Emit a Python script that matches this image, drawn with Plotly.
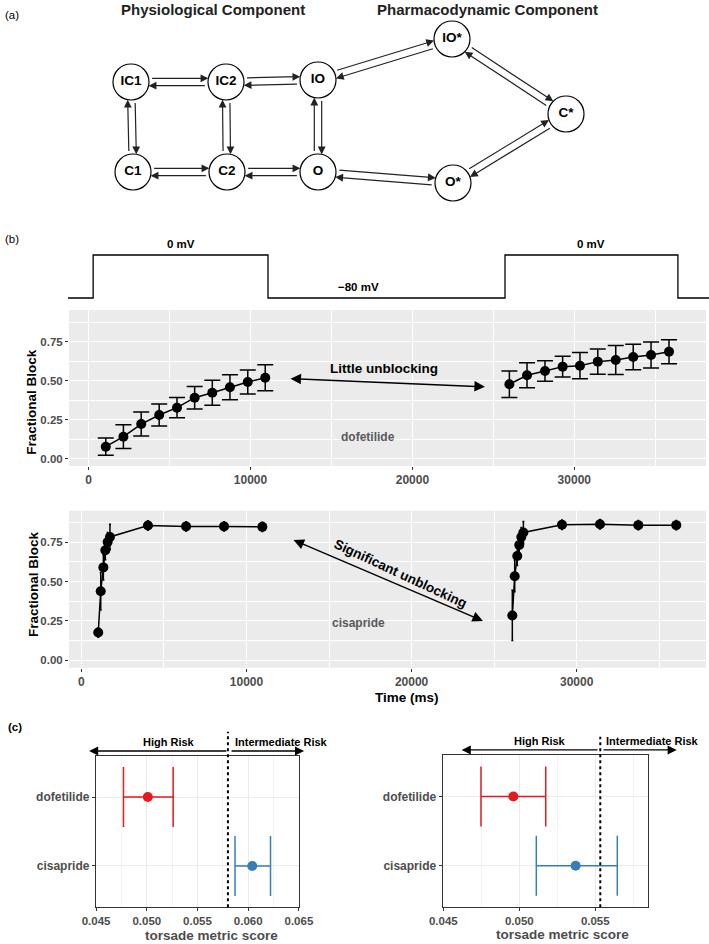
import plotly.graph_objects as go

W, H = 709, 944
FONT = "Liberation Sans, Arial, Helvetica, sans-serif"
GRAYTXT = "#4d4d4d"
TICKC = "#333333"

# ---------------- (a) kinetic scheme ----------------
node_names = ["IC1", "IC2", "IO", "C1", "C2", "O", "IO*", "C*", "O*"]
node_x = [131, 226, 318, 133, 227, 318, 452, 566, 453]
node_y = [82, 82, 80, 172, 172, 172, 39, 114, 183]
edge_from = ["IC1", "IC2", "C1", "C2", "IC1", "IC2", "IO", "IO", "IO*", "C*", "O*"]
edge_to = ["IC2", "IO", "C2", "O", "C1", "C2", "O", "IO*", "C*", "O*", "O"]
component_titles = ["Physiological Component", "Pharmacodynamic Component"]
component_title_x = [213, 487]

# ---------------- (b) voltage protocol ----------------
volt_t = [-1270, 280, 280, 11080, 11080, 25720, 25720, 36400, 36400, 38320]
volt_mv = [-80, -80, 0, 0, -80, -80, 0, 0, -80, -80]
volt_labels = ["0 mV", "\u221280 mV", "0 mV"]
volt_label_t = [5700, 16700, 31050]
volt_label_mv = [0, -80, 0]

# ---------------- (b) fractional block ----------------
dof_t1 = [1060, 2150, 3250, 4360, 5460, 6550, 7640, 8730, 9830, 10910]
dof_y1 = [0.079, 0.143, 0.224, 0.282, 0.329, 0.393, 0.425, 0.460, 0.494, 0.521]
dof_e1 = [0.055, 0.076, 0.077, 0.070, 0.065, 0.072, 0.080, 0.080, 0.077, 0.083]
dof_t2 = [25990, 27080, 28190, 29280, 30350, 31450, 32560, 33640, 34740, 35850]
dof_y2 = [0.479, 0.537, 0.564, 0.592, 0.598, 0.624, 0.635, 0.654, 0.667, 0.688]
dof_e2 = [0.085, 0.080, 0.066, 0.066, 0.084, 0.081, 0.093, 0.082, 0.083, 0.077]

cis_t1 = [1020, 1170, 1330, 1450, 1590, 1730, 4030, 6340, 8640, 10960]
cis_y1 = [0.175, 0.438, 0.590, 0.699, 0.752, 0.784, 0.857, 0.851, 0.851, 0.848]
cis_e1 = [0.03, 0.12, 0.08, 0.06, 0.06, 0.08, 0.03, 0.03, 0.03, 0.03]
cis_t2 = [26100, 26245, 26400, 26520, 26645, 26770, 29110, 31410, 33730, 36030]
cis_y2 = [0.284, 0.534, 0.662, 0.733, 0.784, 0.812, 0.861, 0.865, 0.859, 0.859]
cis_e2 = [0.16, 0.10, 0.06, 0.06, 0.06, 0.07, 0.03, 0.03, 0.03, 0.03]

time_ticks = [0, 10000, 20000, 30000]
time_minor = [5000, 15000, 25000, 35000]
block_ticks = [0, 0.25, 0.5, 0.75]
block_minor = [0.125, 0.375, 0.625, 0.875]

# ---------------- (c) torsade metric score ----------------
drugs = ["dofetilide", "cisapride"]
drug_colors = ["#E41A1C", "#377EB8"]
tms_left_mean = [0.0501, 0.0604]
tms_left_lo = [0.0477, 0.0587]
tms_left_hi = [0.0526, 0.0622]
tms_right_mean = [0.04961, 0.05371]
tms_right_lo = [0.04748, 0.05112]
tms_right_hi = [0.05174, 0.05645]
thr_left = 0.0580
thr_right = 0.05533
tms_ticks_left = [0.045, 0.050, 0.055, 0.060, 0.065]
tms_minor_left = [0.0475, 0.0525, 0.0575, 0.0625]
tms_ticks_right = [0.045, 0.050, 0.055]
tms_minor_right = [0.0475, 0.0525, 0.0575]
risk_labels = ["High Risk", "Intermediate Risk"]


def pxx(x):
    return x / W


def pxy(y):
    return 1 - y / H


fig = go.Figure()

# ---- panel (b) traces ----
for t, y, e in ((dof_t1, dof_y1, dof_e1), (dof_t2, dof_y2, dof_e2)):
    fig.add_trace(go.Scatter(
        x=t, y=y, mode="lines+markers", xaxis="x", yaxis="y",
        line=dict(color="black", width=1.5), marker=dict(color="black", size=10),
        error_y=dict(type="data", array=e, color="black", thickness=1.5, width=8),
        showlegend=False, hoverinfo="skip"))
for t, y, e in ((cis_t1, cis_y1, cis_e1), (cis_t2, cis_y2, cis_e2)):
    fig.add_trace(go.Scatter(
        x=t, y=y, mode="lines+markers", xaxis="x2", yaxis="y2",
        line=dict(color="black", width=1.5), marker=dict(color="black", size=10),
        error_y=dict(type="data", array=e, color="black", thickness=1.5, width=1),
        showlegend=False, hoverinfo="skip"))

fig.add_trace(go.Scatter(
    x=volt_t, y=volt_mv, mode="lines", xaxis="x3", yaxis="y3",
    line=dict(color="black", width=1.3), showlegend=False, hoverinfo="skip"))

# ---- panel (a) node labels ----
fig.add_trace(go.Scatter(
    x=node_x, y=node_y, mode="text", text=node_names, xaxis="x6", yaxis="y6",
    textfont=dict(family=FONT, size=13.5, color="black", weight="bold"),
    textposition="middle center", showlegend=False, hoverinfo="skip"))

# ---- panel (c) traces ----
for ax_x, ax_y, mean, lo, hi in (("x4", "y4", tms_left_mean, tms_left_lo, tms_left_hi),
                                 ("x5", "y5", tms_right_mean, tms_right_lo, tms_right_hi)):
    for i, d in enumerate(drugs):
        fig.add_trace(go.Scatter(
            x=[mean[i]], y=[d], mode="markers", xaxis=ax_x, yaxis=ax_y,
            marker=dict(color=drug_colors[i], size=10),
            error_x=dict(type="data", symmetric=False, array=[hi[i] - mean[i]],
                         arrayminus=[mean[i] - lo[i]], color=drug_colors[i],
                         thickness=1.5, width=30),
            showlegend=False, hoverinfo="skip"))

# ---------------- axes ----------------
tickfont_b = dict(family=FONT, size=12, color=GRAYTXT, weight="bold")


def time_axis(dom, rng, anchor):
    return dict(domain=dom, range=rng, anchor=anchor, tickvals=time_ticks, tickformat="d",
                showgrid=True, gridcolor="white", gridwidth=1.2, zeroline=False,
                ticks="outside", ticklen=3, tickwidth=1, tickcolor=TICKC,
                tickfont=tickfont_b, showline=False, fixedrange=True,
                minor=dict(tickvals=time_minor, showgrid=True, gridcolor="white",
                           gridwidth=0.5, ticks=""))


def block_axis(dom, rng, anchor):
    return dict(domain=dom, range=rng, anchor=anchor, tickvals=block_ticks, tickformat=".2f",
                showgrid=True, gridcolor="white", gridwidth=1.2, zeroline=False,
                ticks="outside", ticklen=3, tickwidth=1, tickcolor=TICKC,
                tickfont=dict(family=FONT, size=11.5, color=GRAYTXT, weight="bold"),
                showline=False, fixedrange=True,
                minor=dict(tickvals=block_minor, showgrid=True, gridcolor="white",
                           gridwidth=0.5, ticks=""))


def tms_axis(dom, rng, anchor, ticks, minor):
    return dict(domain=dom, range=rng, anchor=anchor, tickvals=ticks, tickformat=".3f",
                showgrid=True, gridcolor="#EBEBEB", gridwidth=1, zeroline=False,
                ticks="outside", ticklen=3, tickwidth=1, tickcolor=TICKC,
                tickfont=dict(family=FONT, size=11.5, color=GRAYTXT, weight="bold"),
                showline=True, mirror=True, linecolor="#333333", linewidth=1.3,
                fixedrange=True,
                minor=dict(tickvals=minor, showgrid=True, gridcolor="#F2F2F2",
                           gridwidth=0.6, ticks=""))


def cat_axis(dom, anchor):
    return dict(domain=dom, anchor=anchor, type="category", categoryorder="array",
                categoryarray=drugs[::-1], range=[-0.6, 1.6],
                showgrid=True, gridcolor="#EBEBEB", gridwidth=1, zeroline=False,
                ticks="outside", ticklen=3, tickwidth=1, tickcolor=TICKC,
                tickfont=dict(family=FONT, size=12, color=GRAYTXT, weight="bold"),
                showline=True, mirror=True, linecolor="#333333", linewidth=1.3,
                fixedrange=True)


bx = [pxx(69), pxx(706)]
layout_axes = dict(
    xaxis=time_axis(bx, [-1211, 38135], "y"),
    yaxis=block_axis([pxy(466), pxy(310)], [-0.0449, 0.955], "x"),
    xaxis2=time_axis(bx, [-751, 37831], "y2"),
    yaxis2=block_axis([pxy(667.7), pxy(510.7)], [-0.049, 0.951], "x2"),
    xaxis3=dict(domain=[0, 1], range=[-5473, 38320], anchor="y3", visible=False, fixedrange=True),
    yaxis3=dict(domain=[pxy(308), pxy(232)], range=[-98.6, 42.8], anchor="x3", visible=False, fixedrange=True),
    xaxis4=tms_axis([pxx(96), pxx(299)], [0.04499, 0.06501], "y4", tms_ticks_left, tms_minor_left),
    yaxis4=cat_axis([pxy(907.3), pxy(755.7)], "x4"),
    xaxis5=tms_axis([pxx(442.7), pxx(648.3)], [0.04496, 0.05849], "y5", tms_ticks_right, tms_minor_right),
    yaxis5=cat_axis([pxy(907.3), pxy(755)], "x5"),
    xaxis6=dict(domain=[0, 1], range=[0, W], anchor="y6", visible=False, fixedrange=True),
    yaxis6=dict(domain=[pxy(205), 1], range=[205, 0], anchor="x6", visible=False, fixedrange=True),
)


def x_to_paper(axname, v):
    ax = layout_axes[axname]
    d0, d1 = ax["domain"]
    r0, r1 = ax["range"]
    return d0 + (v - r0) / (r1 - r0) * (d1 - d0)


def ydom_to_paper(axname, f):
    d0, d1 = layout_axes[axname]["domain"]
    return d0 + f * (d1 - d0)


shapes = []
annotations = []

# gray panel backgrounds
for xr, yr in (("x", "y"), ("x2", "y2")):
    shapes.append(dict(type="rect", xref=xr + " domain", yref=yr + " domain", x0=0, x1=1, y0=0, y1=1,
                       fillcolor="#EBEBEB", line=dict(width=0), layer="below"))

# ---- (a) circles and arrows ----
R = 18.0
OFF = 3.7
pos = {n: (x, y) for n, x, y in zip(node_names, node_x, node_y)}
for n in node_names:
    cx, cy = pos[n]
    shapes.append(dict(type="circle", xref="x6", yref="y6", x0=cx - R, x1=cx + R, y0=cy - R, y1=cy + R,
                       fillcolor="white", line=dict(color="black", width=1.2), layer="below"))
inner = (R * R - OFF * OFF) ** 0.5
for a, b in zip(edge_from, edge_to):
    for s, t in ((a, b), (b, a)):
        sx, sy = pos[s]
        tx, ty = pos[t]
        dx, dy = tx - sx, ty - sy
        L = (dx * dx + dy * dy) ** 0.5
        ux, uy = dx / L, dy / L
        nx, ny = uy, -ux
        hx, hy = tx - ux * inner + nx * OFF, ty - uy * inner + ny * OFF
        tx0, ty0 = sx + ux * (inner + 3) + nx * OFF, sy + uy * (inner + 3) + ny * OFF
        annotations.append(dict(x=hx, y=hy, ax=tx0, ay=ty0, xref="x6", yref="y6", axref="x6", ayref="y6",
                                text="", showarrow=True, arrowhead=2, arrowsize=1.3, arrowwidth=1.2,
                                arrowcolor="#222222", standoff=0, startstandoff=0,
                                font=dict(size=1), borderpad=0))
for ttl, tx in zip(component_titles, component_title_x):
    annotations.append(dict(x=tx, y=9, xref="x6", yref="y6", text=ttl, showarrow=False,
                            xanchor="center", yanchor="middle",
                            font=dict(family=FONT, size=15, color="#222222", weight="bold")))

# panel letters
for lbl, x, y, wt in (("(a)", 12, 15, "normal"), ("(b)", 12, 239, "normal"), ("(c)", 15, 727, "bold")):
    annotations.append(dict(x=pxx(x), y=pxy(y), xref="paper", yref="paper", text=lbl, showarrow=False,
                            xanchor="center", yanchor="middle",
                            font=dict(family=FONT, size=11.5, color="black", weight=wt)))

# voltage labels
for lbl, t, v in zip(volt_labels, volt_label_t, volt_label_mv):
    annotations.append(dict(x=t, y=v, xref="x3", yref="y3", text=lbl, showarrow=False, yshift=11,
                            xanchor="center", yanchor="middle",
                            font=dict(family=FONT, size=11.5, color="black", weight="bold")))

# panel (b) titles
for x, y, txt, ang in ((30.7, 402, "Fractional Block", -90), (33, 584, "Fractional Block", -90),
                       (407, 697.5, "Time (ms)", 0)):
    annotations.append(dict(x=pxx(x), y=pxy(y), xref="paper", yref="paper", text=txt, textangle=ang,
                            xanchor="center", yanchor="middle",
                            showarrow=False, font=dict(family=FONT, size=13.5, color="black", weight="bold")))

# dofetilide annotations
annotations.append(dict(x=24480, y=0.463, ax=12440, ay=0.515, xref="x", yref="y", axref="x", ayref="y",
                        text="", showarrow=True, arrowhead=2, arrowside="end+start", arrowsize=1.4,
                        arrowwidth=1.5, arrowcolor="black", font=dict(size=1), borderpad=0))
annotations.append(dict(x=18250, y=0.577, xref="x", yref="y", text="Little unblocking", showarrow=False,
                        font=dict(family=FONT, size=13.5, color="black", weight="bold")))
annotations.append(dict(x=17260, y=0.141, xref="x", yref="y", text="dofetilide", showarrow=False,
                        font=dict(family=FONT, size=12, color="#595959", weight="bold")))
# cisapride annotations
annotations.append(dict(x=24320, y=0.249, ax=12820, ay=0.765, xref="x2", yref="y2", axref="x2", ayref="y2",
                        text="", showarrow=True, arrowhead=2, arrowside="end+start", arrowsize=1.4,
                        arrowwidth=1.5, arrowcolor="black", font=dict(size=1), borderpad=0))
annotations.append(dict(x=19300, y=0.548, xref="x2", yref="y2", text="Significant unblocking", textangle=25,
                        showarrow=False, font=dict(family=FONT, size=13.5, color="black", weight="bold")))
annotations.append(dict(x=16760, y=0.234, xref="x2", yref="y2", text="cisapride", showarrow=False,
                        font=dict(family=FONT, size=12, color="#595959", weight="bold")))

# ---- panel (c) risk arrows and thresholds ----
risk_specs = [
    ("xaxis4", "yaxis4", "x4", "y4", thr_left, 0.04431, 0.05789, 0.05831, 0.06551, 0.0522, 0.06324, 1.031, 1.092, 1.158),
    ("xaxis5", "yaxis5", "x5", "y5", thr_right, 0.04621, 0.05518, 0.05551, 0.06036, 0.05136, 0.05878, 1.033, 1.095, 1.12),
]
for xa, ya_name, xr, yr, thr, lhead, ltail, rtail, rhead, hx, ix, yarr, ytxt, ytop in risk_specs:
    shapes.append(dict(type="line", xref=xr, yref=yr + " domain", x0=thr, x1=thr, y0=0, y1=ytop,
                       line=dict(color="black", width=2, dash="dot")))
    yp = ydom_to_paper(ya_name, yarr)
    for head, tail in ((lhead, ltail), (rhead, rtail)):
        hp = x_to_paper(xa, head)
        tp = x_to_paper(xa, tail)
        annotations.append(dict(x=hp, y=yp, ax=(tp - hp) * W, ay=0, xref="paper", yref="paper",
                                axref="pixel", ayref="pixel", text="", showarrow=True, arrowhead=2,
                                arrowsize=1.4, arrowwidth=1.3, arrowcolor="black",
                                font=dict(size=1), borderpad=0, standoff=0))
    for lbl, v in zip(risk_labels, (hx, ix)):
        annotations.append(dict(x=x_to_paper(xa, v), y=ydom_to_paper(ya_name, ytxt), xref="paper", yref="paper",
                                text=lbl, showarrow=False, xanchor="center", yanchor="middle",
                                font=dict(family=FONT, size=11, color="black", weight="bold")))

for x, y in ((211, 935.5), (562, 934)):
    annotations.append(dict(x=pxx(x), y=pxy(y), xref="paper", yref="paper", text="torsade metric score",
                            showarrow=False, xanchor="center", yanchor="middle",
                            font=dict(family=FONT, size=13.5, color=GRAYTXT, weight="bold")))

fig.update_layout(
    width=W, height=H, margin=dict(l=0, r=0, t=0, b=0, autoexpand=False),
    paper_bgcolor="white", plot_bgcolor="rgba(0,0,0,0)",
    showlegend=False, hovermode=False,
    shapes=shapes, annotations=annotations,
    **layout_axes)

fig.write_html(
    "out.html",
    config={"responsive": False, "displayModeBar": False},
    post_script="document.body.style.margin='0';document.body.style.padding='0';"
                "document.body.style.overflow='hidden';document.documentElement.style.overflow='hidden';",
)
